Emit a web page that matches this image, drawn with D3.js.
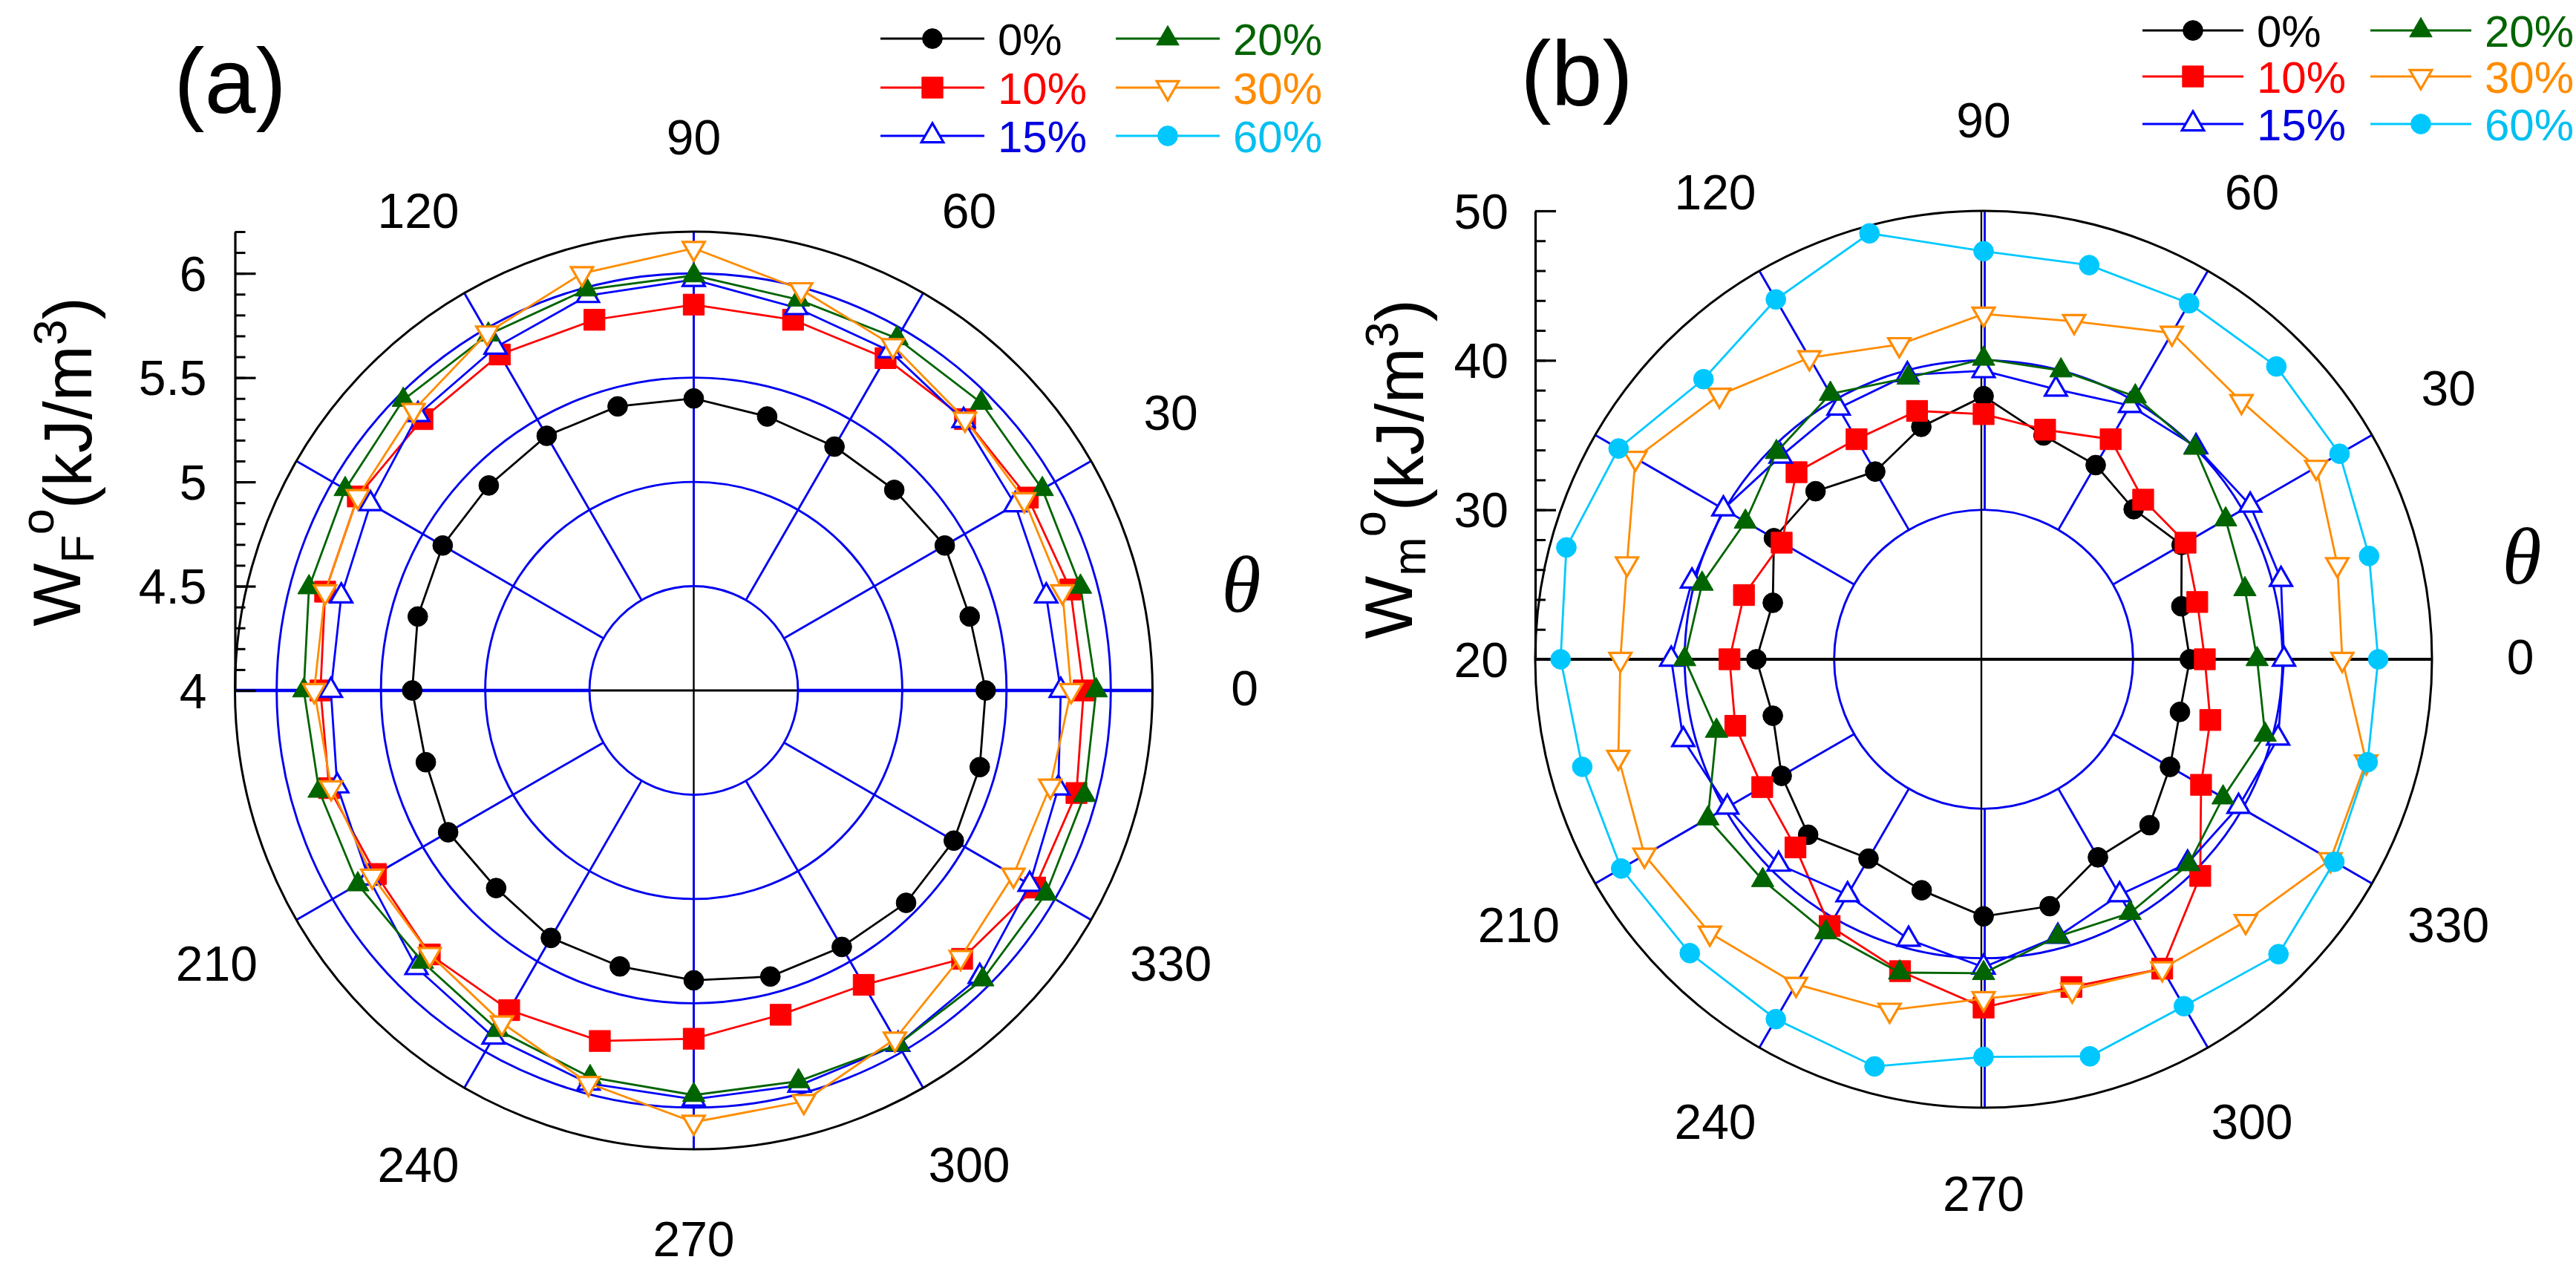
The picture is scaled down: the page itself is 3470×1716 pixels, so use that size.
<!DOCTYPE html>
<html><head><meta charset="utf-8">
<script src="https://cdn.jsdelivr.net/npm/d3@7"></script>
<style>body{margin:0;background:#fff}svg{display:block}</style>
</head><body>
<svg id="c" width="3470" height="1716"></svg>
<script>
// ---------- data ----------
const angleDeg = [0,15,30,45,60,75,90,105,120,135,150,165,180,195,210,225,240,255,270,285,300,315,330,345];
const seriesLabels = ["0%","10%","15%","20%","30%","60%"];
const seriesColors = ["#000000","#FF0000","#0000FF","#006400","#FF8C00","#00C8FF"];
const labelColors  = ["#000000","#FF0000","#0000E0","#006400","#FF8C00","#00C0F0"];

// panel (a): W_F^0 (kJ/m^3)
const a0  = [5.40,5.37,5.39,5.36,5.35,5.36,5.40,5.41,5.41,5.39,5.39,5.37,5.35,5.33,5.36,5.34,5.37,5.37,5.39,5.42,5.42,5.44,5.44,5.42];
const a10 = [5.87,5.87,5.85,5.84,5.84,5.84,5.85,5.84,5.86,5.84,5.86,5.83,5.79,5.81,5.76,5.79,5.77,5.74,5.67,5.61,5.63,5.82,5.89,5.90];
const a15 = [5.76,5.75,5.78,5.83,5.88,5.90,5.97,5.96,5.90,5.87,5.79,5.75,5.74,5.77,5.80,5.88,5.92,5.95,5.96,5.96,5.96,5.94,5.86,5.81];
const a20 = [5.93,5.92,5.93,5.95,5.95,5.94,5.99,5.99,5.97,5.97,5.93,5.91,5.87,5.86,5.86,5.84,5.88,5.92,5.94,5.94,5.96,5.96,5.95,5.94];
const a30 = [5.81,5.83,5.83,5.84,5.91,5.99,6.12,6.07,5.98,5.90,5.86,5.83,5.82,5.80,5.78,5.79,5.84,5.95,6.07,6.04,5.93,5.81,5.77,5.77];

// panel (b): W_m^0 (kJ/m^3)
const b0  = [33.8,33.7,35.3,34.2,35.0,35.5,37.6,36.1,34.5,35.9,36.2,34.6,35.2,34.6,35.6,36.6,35.4,36.0,37.2,37.1,35.3,35.7,34.4,33.6];
const b10 = [34.8,34.8,35.6,35.1,37.0,35.9,36.4,37.2,37.0,37.7,35.6,36.6,37.0,37.2,37.1,37.8,40.6,41.6,43.3,42.7,43.9,40.5,36.8,35.7];
const b15 = [40.1,40.6,40.6,40.1,39.6,38.7,39.3,39.7,39.4,39.2,40.1,40.2,40.9,40.8,39.8,39.4,38.2,39.4,40.6,39.2,38.2,39.3,39.7,40.4];
const b20 = [38.3,38.1,38.7,40.0,40.3,40.0,40.1,39.5,40.5,39.6,38.4,39.5,40.0,38.5,41.3,40.9,41.1,41.7,41.0,39.2,39.6,39.4,38.5,39.5];
const b30 = [44.0,44.5,45.7,44.4,45.2,43.4,43.1,41.8,43.3,45.0,46.9,44.7,44.3,45.3,46.2,45.9,45.1,44.3,42.7,42.9,43.9,44.8,46.8,46.5];
const b60 = [46.4,46.7,47.5,47.7,47.5,47.3,47.3,49.5,47.8,46.5,48.2,48.9,48.3,47.8,48.0,47.8,47.8,48.2,46.6,47.5,46.8,47.9,47.1,46.6];

// tick labels
const aRadialTicks = [4,4.5,5,5.5,6];
const bRadialTicks = [20,30,40,50];
const angleTickLabels = [0,30,60,90,120,210,240,270,300,330];
const spokeAngles = [0,30,60,90,120,150,180,210,240,270,300,330];

// ---------- drawing ----------
const svg = d3.select("#c");
const FONT = '"Liberation Sans", Arial, Helvetica, sans-serif';
const BLUE = "#0000F0";

const symbolSpecs = [
  {type:d3.symbolCircle,   size:560, fill:true,  rot:0},
  {type:d3.symbolSquare,   size:800, fill:true,  rot:0},
  {type:d3.symbolTriangle, size:380, fill:false, rot:0},
  {type:d3.symbolTriangle, size:400, fill:true,  rot:0},
  {type:d3.symbolTriangle, size:380, fill:false, rot:180},
  {type:d3.symbolCircle,   size:560, fill:true,  rot:0}
];

function drawMarker(g, i, x, y){
  const s = symbolSpecs[i], col = seriesColors[i];
  g.append("path")
    .attr("d", d3.symbol().type(s.type).size(s.size)())
    .attr("transform", `translate(${x},${y}) rotate(${s.rot})`)
    .attr("fill", s.fill ? col : "#fff")
    .attr("stroke", col)
    .attr("stroke-width", s.fill ? 1 : 3.2);
}

function panel(cfg){
  const {cx, cy, R, domain, grid, data, seriesIdx} = cfg;
  const r = d3.scaleLinear().domain(domain).range([0, R]);
  const rad = d => d * Math.PI / 180;
  const px = (a, rr) => cx + rr * Math.cos(rad(a));
  const py = (a, rr) => cy - rr * Math.sin(rad(a));
  const g = svg.append("g");

  const cross = () => {
    g.append("line").attr("x1", cx - R).attr("x2", cx + R).attr("y1", cy).attr("y2", cy)
      .attr("stroke", "#000").attr("stroke-width", cfg.hCrossW);
    g.append("line").attr("x1", cx + cfg.vCrossOff).attr("x2", cx + cfg.vCrossOff)
      .attr("y1", cy - R).attr("y2", cy + R).attr("stroke", "#000").attr("stroke-width", 2.4);
  };
  if (!cfg.crossOnTop) cross();

  // grid circles
  grid.forEach(v => g.append("circle").attr("cx", cx).attr("cy", cy).attr("r", r(v))
    .attr("fill", "none").attr("stroke", BLUE).attr("stroke-width", 2.9));
  // spokes
  const r0 = r(grid[0]);
  spokeAngles.forEach(a => {
    const horiz = (a % 180 === 0);
    const off = (a % 180 === 90) ? cfg.vSpokeOff : 0;
    g.append("line")
      .attr("x1", px(a, r0) + off).attr("y1", py(a, r0))
      .attr("x2", px(a, R) + off).attr("y2", py(a, R))
      .attr("stroke", BLUE).attr("stroke-width", horiz ? cfg.hSpokeW : 2.9);
  });
  if (cfg.crossOnTop) cross();
  // outer circle
  g.append("circle").attr("cx", cx).attr("cy", cy).attr("r", R)
    .attr("fill", "none").attr("stroke", "#000").attr("stroke-width", 3);

  // radial axis on the left
  const y = d3.scaleLinear().domain(domain).range([cy, cy - R]);
  const axG = g.append("g").attr("transform", `translate(${cx - R},0)`);
  axG.call(d3.axisLeft(y).tickValues(cfg.minorTicks).tickSize(-14).tickSizeOuter(0).tickFormat(""));
  axG.selectAll(".domain").remove();
  axG.selectAll("line").attr("stroke-width", 3);
  const axM = g.append("g").attr("transform", `translate(${cx - R},0)`);
  axM.call(d3.axisLeft(y).tickValues(cfg.majorTicks).tickSize(-28).tickSizeOuter(0)
      .tickPadding(cfg.tickPad).tickFormat(d => String(d)));
  axM.select(".domain").attr("stroke-width", 3.2);
  axM.selectAll("line").attr("stroke-width", 3.2);
  axM.selectAll("text").attr("font-family", FONT).attr("font-size", cfg.tickFont).attr("fill", "#000").attr("dy", "0.35em");

  // angular labels
  angleTickLabels.forEach(a => {
    g.append("text").attr("x", px(a, R + cfg.labOff)).attr("y", py(a, R + cfg.labOff) - 4)
      .attr("dy", "0.36em").attr("text-anchor", "middle")
      .attr("font-family", FONT).attr("font-size", cfg.tickFont).text(a);
  });

  // series
  const line = d3.lineRadial().angle(d => rad(90 - d.a)).radius(d => r(d.v)).curve(d3.curveLinearClosed);
  data.forEach((vals, k) => {
    const i = seriesIdx[k];
    const pts = angleDeg.map((a, j) => ({a, v: vals[j]}));
    g.append("path").attr("d", line(pts)).attr("transform", `translate(${cx},${cy})`)
      .attr("fill", "none").attr("stroke", seriesColors[i]).attr("stroke-width", 2.8);
    pts.forEach(p => drawMarker(g, i, px(p.a, r(p.v)), py(p.a, r(p.v))));
  });

  // theta
  g.append("text").attr("x", cfg.theta[0]).attr("y", cfg.theta[1]).attr("text-anchor", "middle")
    .attr("font-family", '"Liberation Serif","Times New Roman",serif').attr("font-style", "italic")
    .attr("font-size", 108).text("θ");

  // panel label
  g.append("text").attr("x", cfg.tag[0]).attr("y", cfg.tag[1]).attr("text-anchor", "middle")
    .attr("font-family", FONT).attr("font-size", 124).text(cfg.tagText);

  // y title (rotated)
  const t = g.append("text").attr("transform", `translate(${cfg.title[0]},${cfg.title[1]}) rotate(-90)`)
    .attr("text-anchor", "middle").attr("font-family", FONT).attr("font-size", cfg.titleFont);
  t.append("tspan").text("W");
  t.append("tspan").attr("font-size", "0.7em").attr("dy", "0.28em").text(cfg.sub);
  t.append("tspan").attr("font-size", "0.7em").attr("dy", "-0.85em").text("o");
  t.append("tspan").attr("dy", "0.57em").text("(kJ/m");
  t.append("tspan").attr("font-size", "0.7em").attr("dy", "-0.55em").text("3");
  t.append("tspan").attr("dy", "0.385em").text(")");

  // legend
  seriesLabels.forEach((lab, i) => {
    const col = Math.floor(i / 3), row = i % 3;
    const x0 = cfg.legX[col], yy = cfg.legY[row], L = cfg.legLen;
    g.append("line").attr("x1", x0).attr("x2", x0 + L).attr("y1", yy).attr("y2", yy)
      .attr("stroke", seriesColors[i]).attr("stroke-width", 3);
    drawMarker(g, i, x0 + L / 2, yy);
    g.append("text").attr("x", x0 + L + 18).attr("y", yy).attr("dy", "0.36em")
      .attr("font-family", FONT).attr("font-size", 60).attr("fill", labelColors[i]).text(lab);
  });
}

const minorA = d3.range(40, 63, 1).map(d => d / 10);
const minorB = d3.range(20, 51, 2);

panel({
  cx: 934.5, cy: 930, R: 618, domain: [4, 6.2], grid: [4.5, 5, 5.5, 6],
  data: [a0, a10, a15, a20, a30], seriesIdx: [0, 1, 2, 3, 4],
  majorTicks: aRadialTicks, minorTicks: minorA, tickPad: 38, tickFont: 66, labOff: 124,
  hCrossW: 3, vCrossOff: 0, vSpokeOff: 0, hSpokeW: 4.4, crossOnTop: false,
  theta: [1672, 824], tag: [310, 152], tagText: "(a)",
  title: [108, 622], titleFont: 90, sub: "F",
  legX: [1186, 1503], legY: [52, 118, 183], legLen: 140
});

panel({
  cx: 2672, cy: 888, R: 604, domain: [20, 50], grid: [30, 40],
  data: [b0, b10, b15, b20, b30, b60], seriesIdx: [0, 1, 2, 3, 4, 5],
  majorTicks: bRadialTicks, minorTicks: minorB, tickPad: 36, tickFont: 66, labOff: 119,
  hCrossW: 4, vCrossOff: -3, vSpokeOff: 1.5, hSpokeW: 2.9, crossOnTop: true,
  theta: [3397, 786], tag: [2124, 142], tagText: "(b)",
  title: [1902, 632], titleFont: 90, sub: "m",
  legX: [2886, 3193], legY: [41, 103, 167], legLen: 136
});
</script>
</body></html>
